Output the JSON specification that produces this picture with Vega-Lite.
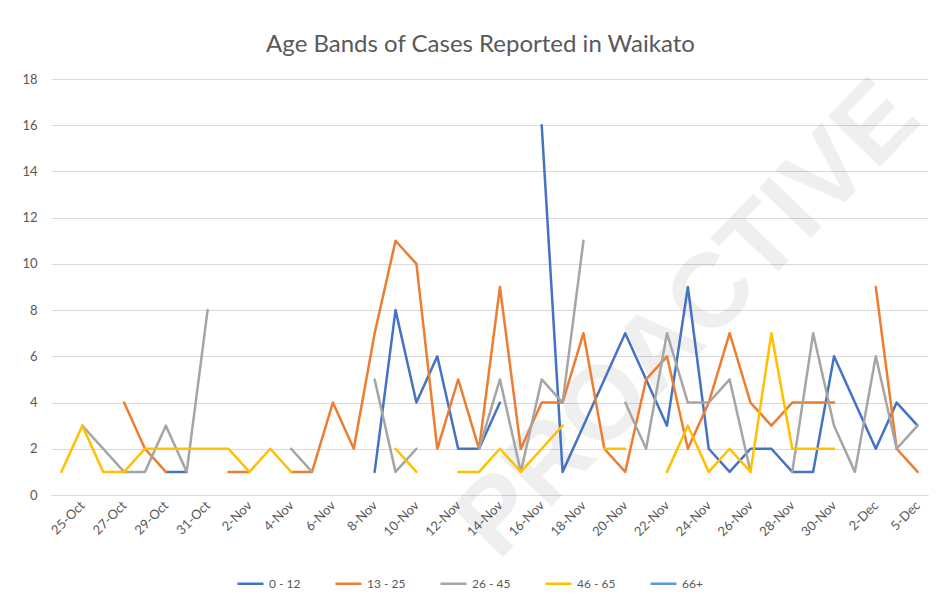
{
"$schema": "https://vega.github.io/schema/vega-lite/v6.json",
"width": 877, "height": 416,
"autosize": {"type": "none"},
"padding": {"left": 51, "top": 79, "right": 20, "bottom": 118},
"background": "white",
"title": {"text": "Age Bands of Cases Reported in Waikato", "fontSize": 24, "font": "Lato", "fontWeight": "normal", "color": "#595959", "offset": -18, "anchor": "middle", "frame": "group", "dx": -9, "baseline": "bottom"},
"config": {"view": {"stroke": null}, "font": "Lato"},
"data": {"values": [
{"i":0,"d":"24-Oct","g":"0 - 12","n":null},{"i":1,"d":"25-Oct","g":"0 - 12","n":null},{"i":2,"d":"26-Oct","g":"0 - 12","n":null},{"i":3,"d":"27-Oct","g":"0 - 12","n":null},{"i":4,"d":"28-Oct","g":"0 - 12","n":null},{"i":5,"d":"29-Oct","g":"0 - 12","n":1},{"i":6,"d":"30-Oct","g":"0 - 12","n":1},{"i":7,"d":"31-Oct","g":"0 - 12","n":null},{"i":8,"d":"1-Nov","g":"0 - 12","n":null},{"i":9,"d":"2-Nov","g":"0 - 12","n":null},{"i":10,"d":"3-Nov","g":"0 - 12","n":null},{"i":11,"d":"4-Nov","g":"0 - 12","n":null},{"i":12,"d":"5-Nov","g":"0 - 12","n":null},{"i":13,"d":"6-Nov","g":"0 - 12","n":null},{"i":14,"d":"7-Nov","g":"0 - 12","n":null},{"i":15,"d":"8-Nov","g":"0 - 12","n":1},{"i":16,"d":"9-Nov","g":"0 - 12","n":8},{"i":17,"d":"10-Nov","g":"0 - 12","n":4},{"i":18,"d":"11-Nov","g":"0 - 12","n":6},{"i":19,"d":"12-Nov","g":"0 - 12","n":2},{"i":20,"d":"13-Nov","g":"0 - 12","n":2},{"i":21,"d":"14-Nov","g":"0 - 12","n":4},{"i":22,"d":"15-Nov","g":"0 - 12","n":null},{"i":23,"d":"16-Nov","g":"0 - 12","n":16},{"i":24,"d":"17-Nov","g":"0 - 12","n":1},{"i":25,"d":"18-Nov","g":"0 - 12","n":3},{"i":26,"d":"19-Nov","g":"0 - 12","n":5},{"i":27,"d":"20-Nov","g":"0 - 12","n":7},{"i":28,"d":"21-Nov","g":"0 - 12","n":5},{"i":29,"d":"22-Nov","g":"0 - 12","n":3},{"i":30,"d":"23-Nov","g":"0 - 12","n":9},{"i":31,"d":"24-Nov","g":"0 - 12","n":2},{"i":32,"d":"25-Nov","g":"0 - 12","n":1},{"i":33,"d":"26-Nov","g":"0 - 12","n":2},{"i":34,"d":"27-Nov","g":"0 - 12","n":2},{"i":35,"d":"28-Nov","g":"0 - 12","n":1},{"i":36,"d":"29-Nov","g":"0 - 12","n":1},{"i":37,"d":"30-Nov","g":"0 - 12","n":6},{"i":38,"d":"1-Dec","g":"0 - 12","n":4},{"i":39,"d":"2-Dec","g":"0 - 12","n":2},{"i":40,"d":"4-Dec","g":"0 - 12","n":4},{"i":41,"d":"5-Dec","g":"0 - 12","n":3},
{"i":0,"d":"24-Oct","g":"13 - 25","n":null},{"i":1,"d":"25-Oct","g":"13 - 25","n":null},{"i":2,"d":"26-Oct","g":"13 - 25","n":null},{"i":3,"d":"27-Oct","g":"13 - 25","n":4},{"i":4,"d":"28-Oct","g":"13 - 25","n":2},{"i":5,"d":"29-Oct","g":"13 - 25","n":1},{"i":6,"d":"30-Oct","g":"13 - 25","n":null},{"i":7,"d":"31-Oct","g":"13 - 25","n":null},{"i":8,"d":"1-Nov","g":"13 - 25","n":1},{"i":9,"d":"2-Nov","g":"13 - 25","n":1},{"i":10,"d":"3-Nov","g":"13 - 25","n":null},{"i":11,"d":"4-Nov","g":"13 - 25","n":1},{"i":12,"d":"5-Nov","g":"13 - 25","n":1},{"i":13,"d":"6-Nov","g":"13 - 25","n":4},{"i":14,"d":"7-Nov","g":"13 - 25","n":2},{"i":15,"d":"8-Nov","g":"13 - 25","n":7},{"i":16,"d":"9-Nov","g":"13 - 25","n":11},{"i":17,"d":"10-Nov","g":"13 - 25","n":10},{"i":18,"d":"11-Nov","g":"13 - 25","n":2},{"i":19,"d":"12-Nov","g":"13 - 25","n":5},{"i":20,"d":"13-Nov","g":"13 - 25","n":2},{"i":21,"d":"14-Nov","g":"13 - 25","n":9},{"i":22,"d":"15-Nov","g":"13 - 25","n":2},{"i":23,"d":"16-Nov","g":"13 - 25","n":4},{"i":24,"d":"17-Nov","g":"13 - 25","n":4},{"i":25,"d":"18-Nov","g":"13 - 25","n":7},{"i":26,"d":"19-Nov","g":"13 - 25","n":2},{"i":27,"d":"20-Nov","g":"13 - 25","n":1},{"i":28,"d":"21-Nov","g":"13 - 25","n":5},{"i":29,"d":"22-Nov","g":"13 - 25","n":6},{"i":30,"d":"23-Nov","g":"13 - 25","n":2},{"i":31,"d":"24-Nov","g":"13 - 25","n":4},{"i":32,"d":"25-Nov","g":"13 - 25","n":7},{"i":33,"d":"26-Nov","g":"13 - 25","n":4},{"i":34,"d":"27-Nov","g":"13 - 25","n":3},{"i":35,"d":"28-Nov","g":"13 - 25","n":4},{"i":36,"d":"29-Nov","g":"13 - 25","n":4},{"i":37,"d":"30-Nov","g":"13 - 25","n":4},{"i":38,"d":"1-Dec","g":"13 - 25","n":null},{"i":39,"d":"2-Dec","g":"13 - 25","n":9},{"i":40,"d":"4-Dec","g":"13 - 25","n":2},{"i":41,"d":"5-Dec","g":"13 - 25","n":1},
{"i":0,"d":"24-Oct","g":"26 - 45","n":null},{"i":1,"d":"25-Oct","g":"26 - 45","n":3},{"i":2,"d":"26-Oct","g":"26 - 45","n":2},{"i":3,"d":"27-Oct","g":"26 - 45","n":1},{"i":4,"d":"28-Oct","g":"26 - 45","n":1},{"i":5,"d":"29-Oct","g":"26 - 45","n":3},{"i":6,"d":"30-Oct","g":"26 - 45","n":1},{"i":7,"d":"31-Oct","g":"26 - 45","n":8},{"i":8,"d":"1-Nov","g":"26 - 45","n":null},{"i":9,"d":"2-Nov","g":"26 - 45","n":null},{"i":10,"d":"3-Nov","g":"26 - 45","n":null},{"i":11,"d":"4-Nov","g":"26 - 45","n":2},{"i":12,"d":"5-Nov","g":"26 - 45","n":1},{"i":13,"d":"6-Nov","g":"26 - 45","n":null},{"i":14,"d":"7-Nov","g":"26 - 45","n":null},{"i":15,"d":"8-Nov","g":"26 - 45","n":5},{"i":16,"d":"9-Nov","g":"26 - 45","n":1},{"i":17,"d":"10-Nov","g":"26 - 45","n":2},{"i":18,"d":"11-Nov","g":"26 - 45","n":null},{"i":19,"d":"12-Nov","g":"26 - 45","n":null},{"i":20,"d":"13-Nov","g":"26 - 45","n":2},{"i":21,"d":"14-Nov","g":"26 - 45","n":5},{"i":22,"d":"15-Nov","g":"26 - 45","n":1},{"i":23,"d":"16-Nov","g":"26 - 45","n":5},{"i":24,"d":"17-Nov","g":"26 - 45","n":4},{"i":25,"d":"18-Nov","g":"26 - 45","n":11},{"i":26,"d":"19-Nov","g":"26 - 45","n":null},{"i":27,"d":"20-Nov","g":"26 - 45","n":4},{"i":28,"d":"21-Nov","g":"26 - 45","n":2},{"i":29,"d":"22-Nov","g":"26 - 45","n":7},{"i":30,"d":"23-Nov","g":"26 - 45","n":4},{"i":31,"d":"24-Nov","g":"26 - 45","n":4},{"i":32,"d":"25-Nov","g":"26 - 45","n":5},{"i":33,"d":"26-Nov","g":"26 - 45","n":1},{"i":34,"d":"27-Nov","g":"26 - 45","n":null},{"i":35,"d":"28-Nov","g":"26 - 45","n":1},{"i":36,"d":"29-Nov","g":"26 - 45","n":7},{"i":37,"d":"30-Nov","g":"26 - 45","n":3},{"i":38,"d":"1-Dec","g":"26 - 45","n":1},{"i":39,"d":"2-Dec","g":"26 - 45","n":6},{"i":40,"d":"4-Dec","g":"26 - 45","n":2},{"i":41,"d":"5-Dec","g":"26 - 45","n":3},
{"i":0,"d":"24-Oct","g":"46 - 65","n":1},{"i":1,"d":"25-Oct","g":"46 - 65","n":3},{"i":2,"d":"26-Oct","g":"46 - 65","n":1},{"i":3,"d":"27-Oct","g":"46 - 65","n":1},{"i":4,"d":"28-Oct","g":"46 - 65","n":2},{"i":5,"d":"29-Oct","g":"46 - 65","n":2},{"i":6,"d":"30-Oct","g":"46 - 65","n":2},{"i":7,"d":"31-Oct","g":"46 - 65","n":2},{"i":8,"d":"1-Nov","g":"46 - 65","n":2},{"i":9,"d":"2-Nov","g":"46 - 65","n":1},{"i":10,"d":"3-Nov","g":"46 - 65","n":2},{"i":11,"d":"4-Nov","g":"46 - 65","n":1},{"i":12,"d":"5-Nov","g":"46 - 65","n":null},{"i":13,"d":"6-Nov","g":"46 - 65","n":null},{"i":14,"d":"7-Nov","g":"46 - 65","n":null},{"i":15,"d":"8-Nov","g":"46 - 65","n":null},{"i":16,"d":"9-Nov","g":"46 - 65","n":2},{"i":17,"d":"10-Nov","g":"46 - 65","n":1},{"i":18,"d":"11-Nov","g":"46 - 65","n":null},{"i":19,"d":"12-Nov","g":"46 - 65","n":1},{"i":20,"d":"13-Nov","g":"46 - 65","n":1},{"i":21,"d":"14-Nov","g":"46 - 65","n":2},{"i":22,"d":"15-Nov","g":"46 - 65","n":1},{"i":23,"d":"16-Nov","g":"46 - 65","n":2},{"i":24,"d":"17-Nov","g":"46 - 65","n":3},{"i":25,"d":"18-Nov","g":"46 - 65","n":null},{"i":26,"d":"19-Nov","g":"46 - 65","n":2},{"i":27,"d":"20-Nov","g":"46 - 65","n":2},{"i":28,"d":"21-Nov","g":"46 - 65","n":null},{"i":29,"d":"22-Nov","g":"46 - 65","n":1},{"i":30,"d":"23-Nov","g":"46 - 65","n":3},{"i":31,"d":"24-Nov","g":"46 - 65","n":1},{"i":32,"d":"25-Nov","g":"46 - 65","n":2},{"i":33,"d":"26-Nov","g":"46 - 65","n":1},{"i":34,"d":"27-Nov","g":"46 - 65","n":7},{"i":35,"d":"28-Nov","g":"46 - 65","n":2},{"i":36,"d":"29-Nov","g":"46 - 65","n":2},{"i":37,"d":"30-Nov","g":"46 - 65","n":2},{"i":38,"d":"1-Dec","g":"46 - 65","n":null},{"i":39,"d":"2-Dec","g":"46 - 65","n":null},{"i":40,"d":"4-Dec","g":"46 - 65","n":null},{"i":41,"d":"5-Dec","g":"46 - 65","n":null}
]},
"encoding": {
  "x": {"field": "d", "type": "ordinal",
   "scale": {"type": "point", "padding": 0.5, "domain": ["24-Oct","25-Oct","26-Oct","27-Oct","28-Oct","29-Oct","30-Oct","31-Oct","1-Nov","2-Nov","3-Nov","4-Nov","5-Nov","6-Nov","7-Nov","8-Nov","9-Nov","10-Nov","11-Nov","12-Nov","13-Nov","14-Nov","15-Nov","16-Nov","17-Nov","18-Nov","19-Nov","20-Nov","21-Nov","22-Nov","23-Nov","24-Nov","25-Nov","26-Nov","27-Nov","28-Nov","29-Nov","30-Nov","1-Dec","2-Dec","4-Dec","5-Dec"]},
   "axis": {"title": null, "values": ["25-Oct","27-Oct","29-Oct","31-Oct","2-Nov","4-Nov","6-Nov","8-Nov","10-Nov","12-Nov","14-Nov","16-Nov","18-Nov","20-Nov","22-Nov","24-Nov","26-Nov","28-Nov","30-Nov","2-Dec","5-Dec"],
    "labelAngle": -45, "labelAlign": "right", "labelBaseline": "middle", "labelFontSize": 13, "labelColor": "#595959", "labelPadding": 8,
    "ticks": false, "grid": false, "domainColor": "#d9d9d9", "domainWidth": 1, "labelOverlap": false}},
  "y": {"field": "n", "type": "quantitative", "scale": {"domain": [0, 18]},
   "axis": {"title": null, "values": [0,2,4,6,8,10,12,14,16,18], "grid": true, "gridColor": "#d9d9d9", "gridWidth": 1, "domain": false, "ticks": false, "labelFontSize": 13, "labelColor": "#595959", "labelPadding": 14}}
},
"layer": [
{"data": {"values": [{"w": "PROACTIVE", "d": "23-Nov", "n": 7.6}]},
 "mark": {"type": "text", "angle": -46, "fontSize": 105, "fontWeight": "bold", "font": "Liberation Sans", "color": "#000000", "opacity": 0.06, "align": "center", "baseline": "middle"},
 "encoding": {"text": {"field": "w"}}},
{"mark": {"type": "line", "strokeWidth": 2.5, "strokeCap": "round", "strokeJoin": "round"},
 "encoding": {
  "color": {"field": "g", "type": "nominal",
   "scale": {"domain": ["0 - 12","13 - 25","26 - 45","46 - 65","66+"], "range": ["#4472C4","#ED7D31","#A5A5A5","#FFC000","#5B9BD5"]},
   "legend": {"title": null, "orient": "none", "legendX": 185, "legendY": 490, "direction": "horizontal", "symbolType": "stroke", "symbolSize": 676, "symbolStrokeWidth": 2.5, "labelFontSize": 12, "labelColor": "#595959", "labelOffset": 4, "columnPadding": 29}},
  "order": {"field": "i"}
 }}
]
}
